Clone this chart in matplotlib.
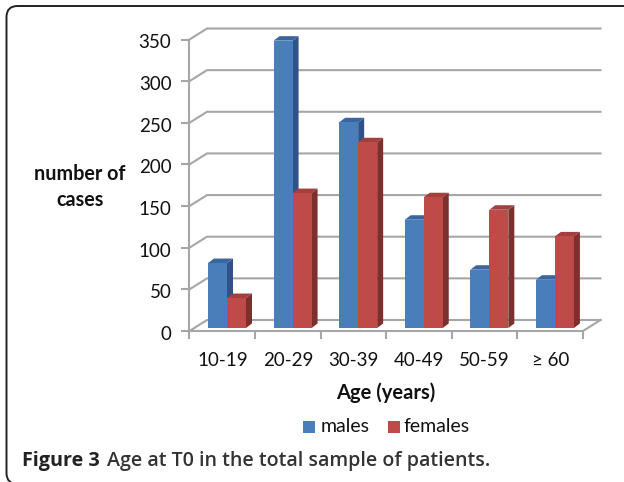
# -*- coding: utf-8 -*-
import matplotlib
matplotlib.use('Agg')
import matplotlib.pyplot as plt
from matplotlib.patches import FancyBboxPatch, Rectangle
from matplotlib.transforms import ScaledTranslation

categorias = ['10-19', '20-29', '30-39', '40-49', '50-59', '≥ 60']
males = [78, 345, 247, 130, 70, 58]
females = [36, 162, 223, 157, 142, 110]
y_ticks = [0, 50, 100, 150, 200, 250, 300, 350]

W, H = 624, 482
AZUL = ['#4a7ebb', '#2f5288', '#3a66a0']
ROJO = ['#be4b48', '#7c2f2d', '#a33f3c']
GRIS = '#a6a6a6'
NEGRO = '#111111'

plt.rcParams['font.family'] = ['Lato', 'DejaVu Sans']

fig = plt.figure(figsize=(W / 100, H / 100), dpi=100)

# capa de fondo en pixeles para el marco y los textos
bg = fig.add_axes([0, 0, 1, 1])
bg.set_xlim(0, W)
bg.set_ylim(H, 0)
bg.axis('off')
bg.add_patch(FancyBboxPatch((6.5, 6), 640, 478, boxstyle='round,pad=0,rounding_size=11',
                            fc='white', ec='#222222', lw=1.4))

# ejes: frente del grafico
x0, x1, y0, y1 = 189.5, 583, 331, 39.5
ax = fig.add_axes([x0 / W, 1 - y0 / H, (x1 - x0) / W, (y0 - y1) / H])
ax.set_xlim(0, len(categorias))
ax.set_ylim(0, 350)
ax.patch.set_alpha(0)
for s in ['top', 'right']:
    ax.spines[s].set_visible(False)
for s in ['left', 'bottom']:
    ax.spines[s].set_color(GRIS)
    ax.spines[s].set_linewidth(1.5)

px_x = len(categorias) / (x1 - x0)
px_y = 350 / (y0 - y1)
prof_x, prof_y = 17.5 * px_x, 11 * px_y

# rejilla en perspectiva
for t in y_ticks:
    ax.plot([0, prof_x, 6 + prof_x], [t, t + prof_y, t + prof_y], color=GRIS, lw=1.5,
            clip_on=False, zorder=1, solid_joinstyle='miter')
ax.plot([6, 6 + prof_x], [0, prof_y], color=GRIS, lw=1.5, clip_on=False, zorder=1)

# barras 3D
ancho = 19 * px_x
lado_x, lado_y = 6 * px_x, 4.5 * px_y
base = 3 * px_y
desp = 4.7 * px_x


def barra(x, v, c):
    ax.bar(x, v, ancho, bottom=base, align='edge', color=c[0], lw=0, zorder=3, clip_on=False)
    top = base + v
    ax.fill([x + ancho, x + ancho + lado_x, x + ancho + lado_x, x + ancho],
            [base, base + lado_y, top + lado_y, top], color=c[1], lw=0, zorder=2.5, clip_on=False)
    ax.fill([x, x + lado_x, x + ancho + lado_x, x + ancho],
            [top, top + lado_y, top + lado_y, top], color=c[2], lw=0, zorder=2.5, clip_on=False)


for i in range(len(categorias)):
    centro = i + 0.5 + desp
    barra(centro - ancho, males[i], AZUL)
    barra(centro, females[i], ROJO)

ax.set_yticks(y_ticks)
ax.set_xticks(range(len(categorias) + 1))
ax.set_xticklabels([])
ax.tick_params(axis='both', color=GRIS, width=1.5, length=6)
ax.tick_params(axis='both', labelcolor=NEGRO, labelsize=13.5)
ax.tick_params(axis='y', pad=7)
bajar = ScaledTranslation(0, -2 / 100, fig.dpi_scale_trans)
for lbl in ax.get_yticklabels():
    lbl.set_transform(lbl.get_transform() + bajar)
for i, c in enumerate(categorias):
    ax.text(i + 0.5, -36, c, ha='center', va='center', fontsize=13.5, color=NEGRO, clip_on=False)

bg.text(80, 174, 'number of', ha='center', va='center', fontsize=14.2, fontweight='bold', color=NEGRO)
bg.text(80, 200, 'cases', ha='center', va='center', fontsize=14.2, fontweight='bold', color=NEGRO)
bg.text(386, 393, 'Age (years)', ha='center', va='center', fontsize=14.5,
        fontweight='bold', color=NEGRO)

# leyenda
bg.add_patch(Rectangle((303, 421), 12, 12, fc=AZUL[0], ec='none'))
bg.text(321, 427, 'males', va='center', fontsize=14, color=NEGRO)
bg.add_patch(Rectangle((388, 421), 12, 12, fc=ROJO[0], ec='none'))
bg.text(404, 427, 'females', va='center', fontsize=14, color=NEGRO)

# pie de figura
bg.text(22, 461, 'Figure 3', va='center', fontsize=14.2, fontweight='bold', color='#222222',
        family=['Open Sans', 'DejaVu Sans'])
bg.text(107, 461, 'Age at T0 in the total sample of patients.', va='center', fontsize=14.1,
        fontweight='semibold', color='#333333', family=['Open Sans', 'DejaVu Sans'])

fig.savefig('out.png', dpi=100)
